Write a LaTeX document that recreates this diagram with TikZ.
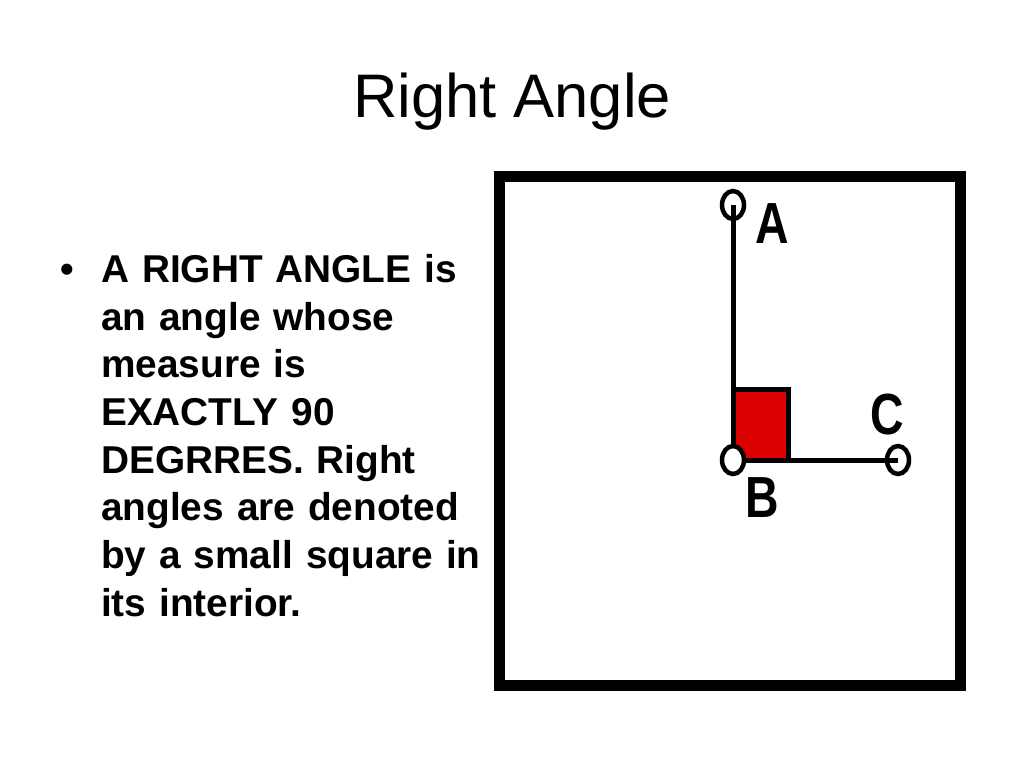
\documentclass[tikz,border=0pt]{standalone}
\usepackage{fontspec}
\setmainfont{Liberation Sans}
\usetikzlibrary{shapes.geometric}

\tikzset{
  endpt/.style={ellipse,draw,fill=white,line width=4.5pt,minimum width=22pt,minimum height=28pt,inner sep=0pt},
  ptlabel/.style={font=\fontsize{58}{58}\selectfont\bfseries,xscale=.8,inner sep=0pt},
  ray/.style={line width=5pt},
  bodytext/.style={font=\fontsize{38.8}{47.7}\selectfont\bfseries,align=left,anchor=north west,inner sep=0pt,text width=430pt}
}

\begin{document}
\begin{tikzpicture}[x=1pt,y=-1pt]
\useasboundingbox (0,0) rectangle (1024,768);
%
\node[font=\fontsize{61.5}{61.5}\selectfont,anchor=base] (title) at (512,117) {Right Angle};
\node[font=\fontsize{38.8}{38.8}\selectfont\bfseries,anchor=base] (bullet) at (67,282) {\textbullet};
\node[bodytext] (body) at (101,254) {A RIGHT ANGLE is\\an angle whose\\measure is\\EXACTLY 90\\DEGRRES. Right\\angles are denoted\\by a small square in\\its interior.};
%
\draw[line width=11pt] (499.5,176) rectangle (960,685.5);
%
\node[endpt] (A) at (733,205) {};
\node[endpt] (C) at (898,460) {};
\coordinate (B) at (733,460);
\draw[line width=5pt,fill={rgb,255:red,221;green,0;blue,0}] (B) rectangle (788,389);
\draw[ray] (A.center) -- (B);
\draw[ray] (B) -- (C.center);
\node[endpt] (Bdot) at (B) {};
%
\node[ptlabel] (labA) at (772,224) {A};
\node[ptlabel] (labB) at (762,498) {B};
\node[ptlabel] (labC) at (887,415) {C};
\end{tikzpicture}
\end{document}
